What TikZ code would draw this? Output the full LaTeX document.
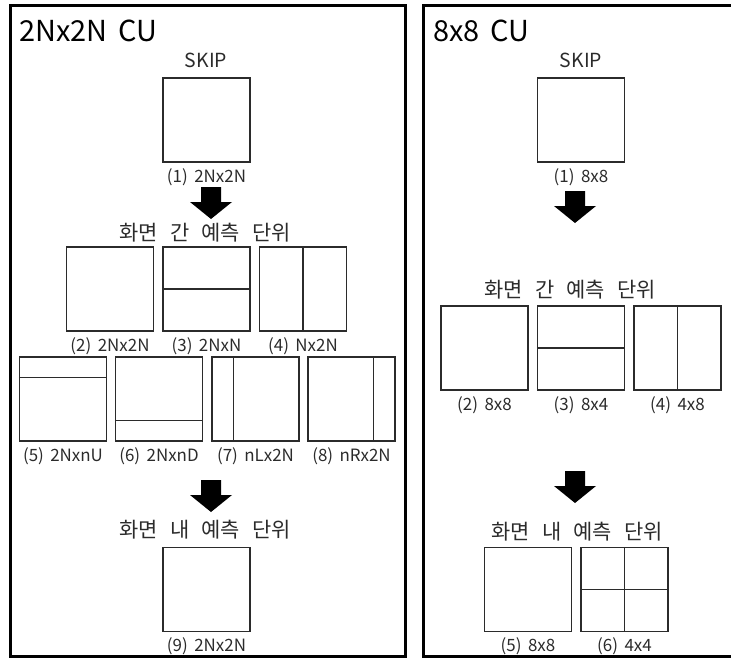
\documentclass[tikz,border=0pt]{standalone}
\usepackage{fontspec}
\setmainfont{Noto Sans CJK KR}[WordSpace=1.7]
\newfontfamily\kor{Noto Sans CJK KR}[WordSpace=2.6]
\usetikzlibrary{positioning,calc}
\definecolor{linec}{HTML}{2B2B2B}
\tikzset{
  pu/.style={draw=linec,line width=1.1bp,minimum width=87bp,minimum height=84bp,inner sep=0pt},
  split/.style={draw=linec,line width=1.1bp},
  lbl/.style={font=\fontsize{17}{19}\selectfont,text=linec,inner sep=1bp},
  skp/.style={font=\fontsize{19.5}{22}\selectfont,text=linec,inner sep=1bp},
  ttl/.style={font=\fontsize{29}{33}\selectfont,anchor=west,inner sep=0pt},
  hd/.style={font=\kor\fontsize{21}{24}\selectfont,text=linec,inner sep=1bp},
  frame/.style={draw=black,line width=3bp},
  blkarr/.pic={\fill[black] (-10,0) -- (10,0) -- (10,15) -- (21,15) -- (0,32) -- (-21,15) -- (-10,15) -- cycle;},
}
% #1 name, #2 centre, #3 label
\newcommand{\pubox}[3]{%
  \node[pu] (#1) at (#2) {};
  \node[lbl,below=4.5bp of #1] (#1-l) {#3};}
\newcommand{\puhline}[2]{\draw[split] ($(#1.north west)!#2!(#1.south west)$) -- ($(#1.north east)!#2!(#1.south east)$);}
\newcommand{\puvline}[2]{\draw[split] ($(#1.north west)!#2!(#1.north east)$) -- ($(#1.south west)!#2!(#1.south east)$);}

\begin{document}
\begin{tikzpicture}[x=1bp,y=-1bp]
  \useasboundingbox (0,0) rectangle (731,658);
  \draw[frame] (10,5.5) rectangle (405.5,656.5);
  \draw[frame] (423.5,5.5) rectangle (740,656.5);

  % 2Nx2N CU
  \node[ttl] (t-l) at (19,31) {2Nx2N CU};
  \node[skp] (s-l) at (206,60) {SKIP};
  \pubox{a1}{206.5,120}{(1) 2Nx2N}
  \pic at (211,187) {blkarr};
  \node[hd] (h-l1) at (205,233) {화면 간 예측 단위};
  \pubox{a2}{110,289}{(2) 2Nx2N}
  \pubox{a3}{206.5,289}{(3) 2NxN}
  \pubox{a4}{303,289}{(4) Nx2N}
  \puhline{a3}{0.5}
  \puvline{a4}{0.5}
  \pubox{a5}{63,399}{(5) 2NxnU}
  \pubox{a6}{159,399}{(6) 2NxnD}
  \pubox{a7}{255.5,399}{(7) nLx2N}
  \pubox{a8}{351.5,399}{(8) nRx2N}
  \puhline{a5}{0.25}
  \puhline{a6}{0.75}
  \puvline{a7}{0.25}
  \puvline{a8}{0.75}
  \pic at (211,480) {blkarr};
  \node[hd] (h-l2) at (205,530) {화면 내 예측 단위};
  \pubox{a9}{206.5,589.5}{(9) 2Nx2N}

  % 8x8 CU
  \node[ttl] (t-r) at (433,31) {8x8 CU};
  \node[skp] (s-r) at (581,60) {SKIP};
  \pubox{b1}{581,120}{(1) 8x8}
  \pic at (575,191) {blkarr};
  \node[hd] (h-r1) at (570,290) {화면 간 예측 단위};
  \pubox{b2}{484.5,348}{(2) 8x8}
  \pubox{b3}{581,348}{(3) 8x4}
  \pubox{b4}{677.5,348}{(4) 4x8}
  \puhline{b3}{0.5}
  \puvline{b4}{0.5}
  \pic at (575,471) {blkarr};
  \node[hd] (h-r2) at (577,532) {화면 내 예측 단위};
  \pubox{b5}{528,589.5}{(5) 8x8}
  \pubox{b6}{624.5,589.5}{(6) 4x4}
  \puhline{b6}{0.5}
  \puvline{b6}{0.5}
\end{tikzpicture}
\end{document}
